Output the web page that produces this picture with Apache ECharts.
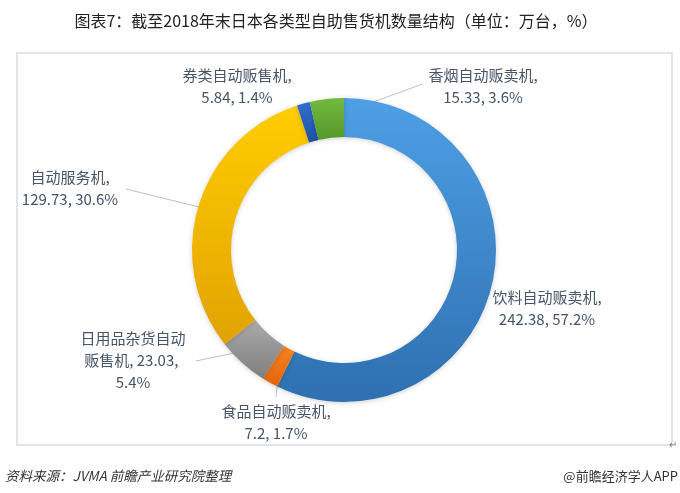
<!DOCTYPE html>
<html><head><meta charset="utf-8">
<script src="https://cdn.jsdelivr.net/npm/echarts@6/dist/echarts.min.js"></script>
<style>html,body{margin:0;padding:0;background:#fff}#c{width:680px;height:493px}</style>
</head><body><div id="c"></div>
<script>
const categories = ['饮料自动贩卖机','食品自动贩卖机','日用品杂货自动贩售机','自动服务机','券类自动贩售机','香烟自动贩卖机'];
const values = [242.38, 7.2, 23.03, 129.73, 5.84, 15.33];
const titleText = '图表7：截至2018年末日本各类型自助售货机数量结构（单位：万台，%）';
const sourceText = '资料来源：JVMA 前瞻产业研究院整理';
const brandText = '@前瞻经济学人APP';

const colorStops = [
  ['#4e9fe5','#2e70b0'],
  ['#f8821f','#e2650c'],
  ['#ababab','#7e7e7e'],
  ['#ffcd02','#e1a200'],
  ['#3070d4','#1f4f9e'],
  ['#72ba3f','#56992c']
];
const FONT = '"Noto Sans CJK SC", "Noto Sans", sans-serif';
const CX = 344, CY = 250, R0 = 113, R1 = 152;
const total = values.reduce((a, b) => a + b, 0);
const labelPlace = [
  {x: 547, y: 308, line: null},
  {x: 276, y: 422, line: 'top'},
  {x: 133, y: 360, line: 'right'},
  {x: 70,  y: 188, line: 'right'},
  {x: 237, y: 86,  line: null},
  {x: 483, y: 86,  line: 'left'}
];
function midPoint(i) {
  let cum = 0;
  for (let k = 0; k < i; k++) cum += values[k];
  const a = (cum + values[i] / 2) / total * 2 * Math.PI;
  const r = (R0 + R1) / 2;
  return [CX + r * Math.sin(a), CY - r * Math.cos(a)];
}
function pct(v) { return (v / total * 100).toFixed(1); }

const data = categories.map((name, i) => {
  const item = {
    name: name,
    value: values[i],
    itemStyle: {
      color: new echarts.graphic.LinearGradient(0, 0, 0, 1, [
        {offset: 0, color: colorStops[i][0]},
        {offset: 1, color: colorStops[i][1]}
      ])
    }
  };
  if (!labelPlace[i].line) item.labelLine = {show: false};
  if (i === 2) item.label = {width: 110, overflow: 'break'};
  return item;
});

const chart = echarts.init(document.getElementById('c'), null, {renderer: 'canvas'});
chart.setOption({
  backgroundColor: '#fff',
  animation: false,
  graphic: [
    {type: 'rect', shape: {x: 17, y: 53, width: 655, height: 392},
     style: {fill: 'none', stroke: '#e1e4ea', lineWidth: 2}, z: 0},
    {type: 'text', x: 336, y: 21,
     style: {text: titleText, align: 'center', verticalAlign: 'middle',
             font: '16px ' + FONT, fill: '#222'}},
    {type: 'text', x: 5, y: 476,
     style: {text: sourceText, align: 'left', verticalAlign: 'middle',
             font: 'italic 13.5px ' + FONT, fill: '#333'}},
    {type: 'text', x: 678, y: 476,
     style: {text: brandText, align: 'right', verticalAlign: 'middle',
             font: '13px ' + FONT, fill: '#333'}},
    {type: 'text', x: 673, y: 444,
     style: {text: '↵', align: 'center', verticalAlign: 'middle',
             font: '10px ' + FONT, fill: '#777'}}
  ],
  series: [{
    type: 'pie',
    center: [CX, CY],
    radius: [R0, R1],
    startAngle: 90,
    clockwise: true,
    avoidLabelOverlap: false,
    emphasis: {disabled: true},
    itemStyle: {shadowBlur: 5, shadowOffsetY: 1, shadowColor: 'rgba(0,0,0,0.18)'},
    label: {
      show: true,
      position: 'outside',
      fontFamily: FONT,
      fontSize: 15,
      lineHeight: 22,
      color: '#465468',
      align: 'center',
      formatter: function (p) {
        if (p.dataIndex === 2) return p.name + ', ' + p.value + ', ' + pct(p.value) + '%';
        return p.name + ',\n' + p.value + ', ' + pct(p.value) + '%';
      }
    },
    labelLine: {show: true, length: 10, length2: 10, lineStyle: {color: '#b8c2ce', width: 1}},
    labelLayout: function (params) {
      const i = params.dataIndex;
      const p = labelPlace[i];
      const w = params.labelRect.width, h = params.labelRect.height;
      const res = {x: p.x, y: p.y, align: 'center', verticalAlign: 'middle'};
      let end = null;
      if (p.line === 'left') end = [p.x - w / 2 - 6, p.y - 2];
      else if (p.line === 'right') end = [p.x + w / 2 + 8, p.y + 1];
      else if (p.line === 'top') end = [p.x, p.y - h / 2 - 3];
      if (end) res.labelLinePoints = [midPoint(i), end, end];
      return res;
    },
    data: data
  }]
});
</script></body></html>
